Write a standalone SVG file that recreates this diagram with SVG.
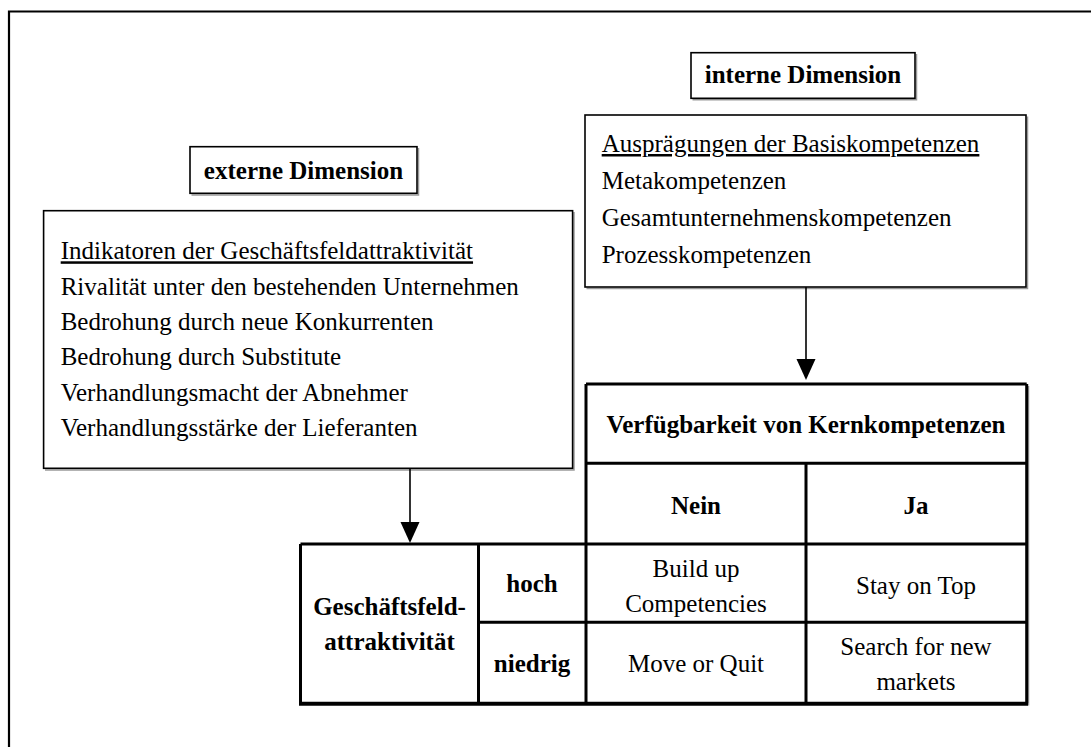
<svg xmlns="http://www.w3.org/2000/svg" width="1091" height="747" viewBox="0 0 1091 747">
<style>
text{font-family:"Liberation Serif","Times New Roman",serif;font-size:25px;fill:#000}
.b{font-weight:bold}
.c{text-anchor:middle}
.box{fill:#fff;stroke:#000;stroke-width:1.6}
.sh{fill:none;stroke:#9a9a9a;stroke-width:1.5}
.tl{stroke:#000;stroke-width:3;fill:none}
.conn{stroke:#000;stroke-width:1.6;fill:none}
</style>
<rect width="1091" height="747" fill="#fff"/>
<path d="M9,747 V11.5 H1091" fill="none" stroke="#000" stroke-width="2.2"/>

<g id="externe-title">
<path class="sh" d="M418.5,148 V195 H191.5"/>
<rect class="box" x="190" y="146.7" width="227" height="46.6"/>
<text class="b c" x="303.5" y="179">externe Dimension</text>
</g>

<g id="interne-title">
<path class="sh" d="M916.5,54 V99.8 H692.5"/>
<rect class="box" x="691" y="52.7" width="224" height="45.6"/>
<text class="b c" x="803" y="83">interne Dimension</text>
</g>

<g id="externe-box">
<path class="sh" d="M574,212 V470 H45"/>
<rect class="box" x="43.6" y="210.7" width="529" height="257.6"/>
<text x="60.7" y="259.3" text-decoration="underline">Indikatoren der Geschäftsfeldattraktivität</text>
<text x="60.7" y="295">Rivalität unter den bestehenden Unternehmen</text>
<text x="60.7" y="330">Bedrohung durch neue Konkurrenten</text>
<text x="60.7" y="365">Bedrohung durch Substitute</text>
<text x="60.7" y="400.7">Verhandlungsmacht der Abnehmer</text>
<text x="60.7" y="436">Verhandlungsstärke der Lieferanten</text>
</g>

<g id="interne-box">
<path class="sh" d="M1027.5,116.5 V288.5 H586.5"/>
<rect class="box" x="585" y="115" width="441" height="172"/>
<text x="601.7" y="152" text-decoration="underline">Ausprägungen der Basiskompetenzen</text>
<text x="601.7" y="189">Metakompetenzen</text>
<text x="601.7" y="226">Gesamtunternehmenskompetenzen</text>
<text x="601.7" y="263">Prozesskompetenzen</text>
</g>

<g id="connectors">
<line class="conn" x1="806" y1="287" x2="806" y2="362"/>
<polygon points="796.5,359 815.5,359 806,380" fill="#000"/>
<line class="conn" x1="410" y1="468.3" x2="410" y2="525"/>
<polygon points="400.5,522 419.5,522 410,543" fill="#000"/>
</g>

<g id="matrix">
<path class="sh" d="M1028.5,386 V705.5"/>
<path class="tl" d="M586,384 H1026.7 M586,463.3 H1026.7 M300.5,544 H1026.7 M478.5,622.3 H1026.7"/>
<path class="tl" d="M586,384 V703.3 M806,463.3 V703.3 M1026.7,384 V703.3 M300.5,544 V703.3 M478.5,544 V703.3"/>
<path d="M299,703.8 H1028" stroke="#000" stroke-width="4"/>
<text class="b c" x="806" y="433">Verfügbarkeit von Kernkompetenzen</text>
<text class="b c" x="696" y="514">Nein</text>
<text class="b c" x="916" y="514">Ja</text>
<text class="b c" x="532" y="592">hoch</text>
<text class="b c" x="532" y="672">niedrig</text>
<text class="b c" x="389.5" y="615">Geschäftsfeld-</text>
<text class="b c" x="389.5" y="650">attraktivität</text>
<text class="c" x="696" y="577">Build up</text>
<text class="c" x="696" y="612">Competencies</text>
<text class="c" x="916" y="594">Stay on Top</text>
<text class="c" x="696" y="672">Move or Quit</text>
<text class="c" x="916" y="655">Search for new</text>
<text class="c" x="916" y="690">markets</text>
</g>
</svg>
